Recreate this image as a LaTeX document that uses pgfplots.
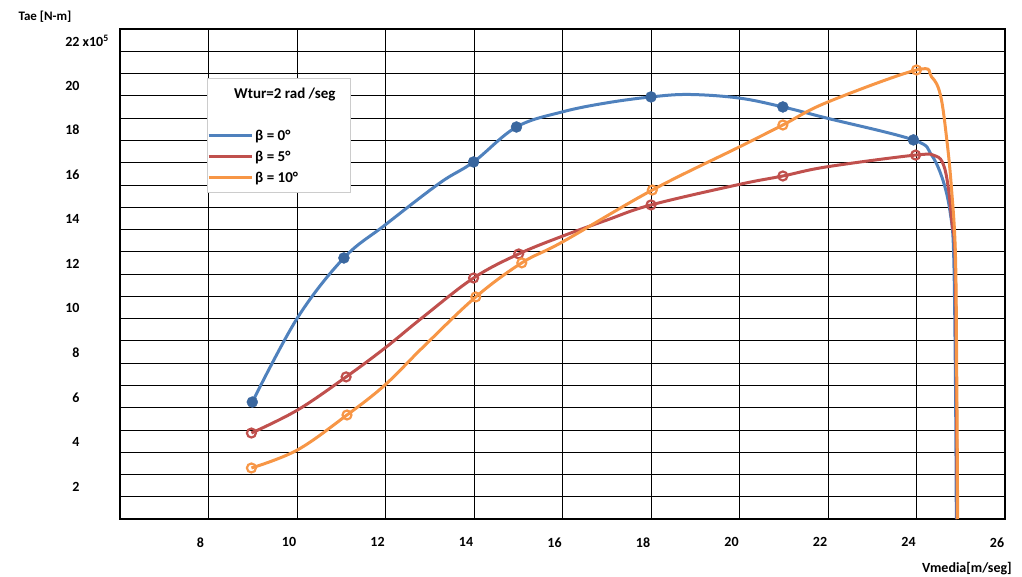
\documentclass[border=0pt]{standalone}
\usepackage{pgfplots}
\pgfplotsset{compat=1.18}
\usepackage{fontspec}
\setmainfont{Carlito}
\definecolor{cblue}{HTML}{4F81BD}
\definecolor{cbluedark}{HTML}{3A679F}
\definecolor{cred}{HTML}{C0504D}
\definecolor{corange}{HTML}{F79646}
\begin{document}
\begin{tikzpicture}[font=\bfseries\fontsize{14}{16}\selectfont]
\path (-120pt,-58pt) rectangle (902pt,519pt);
\begin{axis}[
 at={(0,0)}, anchor=south west,
 scale only axis, width=885pt, height=490pt,
 xmin=6, xmax=26, ymin=0, ymax=22,
 xtick={8,10,...,26}, ytick={2,4,...,22},
 xticklabels={8,10,12,14,16,18,20,22,24,26},
 yticklabels={2,4,6,8,10,12,14,16,18,20,{22\rlap{ x10\textsuperscript{5}}}},
 minor ytick={1,3,...,21},
 xmajorgrids, ymajorgrids, yminorgrids,
 major grid style={black, line width=0.8pt},
 minor grid style={black, line width=0.8pt},
 major tick length=0pt, minor tick length=0pt,
 axis line style={black, line width=1.8pt},
 xticklabel style={xshift=-8pt, yshift=-15pt},
 yticklabel style={xshift=-37pt, yshift=-12pt, anchor=east},
 clip=false,
 legend style={at={(rel axis cs:0.098,0.9)}, anchor=north west, draw=black!20, line width=1pt, fill=white,
   inner xsep=0pt, inner ysep=7pt, row sep=5pt, font=\bfseries\fontsize{15}{17}\selectfont},
 legend cell align=left,
 legend image code/.code={\draw[#1, line width=3pt] (0pt,0pt) -- (43pt,0pt);},
]
\addlegendimage{empty legend}
\addlegendentry{\hspace*{-21pt}Wtur=2 rad /seg\hspace*{13pt}}
\addlegendimage{empty legend}
\addlegendentry{\rule{0pt}{11pt}}

\addplot[cblue, line width=3pt, smooth, tension=0.6] coordinates {
 (8.99,5.25) (10.01,9.03) (11.06,11.72) (11.99,13.20) (13.23,15.09) (13.99,16.03) (14.96,17.60)
 (16.0,18.28) (16.99,18.68) (18.0,18.95) (18.86,19.06) (19.99,18.90) (20.98,18.50) (21.97,18.0)
 (23.93,17.02) (24.34,16.34) (24.61,15.13) (24.77,13.65) (24.84,11.85) (24.88,6.24) (24.90,0)};
\addlegendentry{β = 0°}
\addplot[cred, line width=3pt, smooth, tension=0.6] coordinates {
 (8.97,3.86) (10.01,4.89) (11.11,6.38) (11.99,7.68) (12.85,9.07) (13.99,10.82) (15.01,11.90)
 (16.0,12.70) (17.0,13.42) (18.0,14.10) (19.99,15.02) (20.98,15.40) (21.97,15.81) (23.98,16.34)
 (24.43,16.30) (24.61,15.90) (24.72,14.86) (24.80,13.34) (24.87,11.85) (24.90,6.24) (24.92,0)};
\addlegendentry{β = 5°}
\addplot[corange, line width=3pt, smooth, tension=0.6] coordinates {
 (8.97,2.29) (10.01,3.10) (11.13,4.67) (11.99,6.02) (12.85,7.72) (14.04,9.97) (15.08,11.50)
 (16.0,12.44) (18.03,14.77) (19.99,16.70) (20.98,17.69) (21.97,18.70) (24.0,20.16)
 (24.34,19.85) (24.54,19.04) (24.68,17.11) (24.79,14.86) (24.88,11.85) (24.91,6.24) (24.93,0)};
\addlegendentry{β = 10°}

\addplot[only marks, mark=*, mark size=5.5pt, mark options={fill=cbluedark, draw=cbluedark}, forget plot] coordinates {
 (8.99,5.25) (11.06,11.72) (13.99,16.03) (14.96,17.60) (18.0,18.95) (20.98,18.50) (23.93,17.02)};
\addplot[only marks, mark=o, mark size=4.5pt, mark options={fill=white, draw=cred, line width=2.2pt}, forget plot] coordinates {
 (8.97,3.86) (11.11,6.38) (13.99,10.82) (15.01,11.90) (18.0,14.10) (20.98,15.40) (23.98,16.34)};
\addplot[only marks, mark=o, mark size=4.5pt, mark options={fill=white, draw=corange, line width=2.2pt}, forget plot] coordinates {
 (8.97,2.29) (11.13,4.67) (14.04,9.97) (15.08,11.50) (18.03,14.77) (20.98,17.69) (24.0,20.16)};
\end{axis}
\node[inner sep=0pt, font=\bfseries\fontsize{13}{15}\selectfont] at (-75pt,502pt) {Tae [N-m]};
\node[inner sep=0pt, font=\bfseries\fontsize{14}{16}\selectfont] at (847pt,-50pt) {Vmedia[m/seg]};
\end{tikzpicture}
\end{document}
